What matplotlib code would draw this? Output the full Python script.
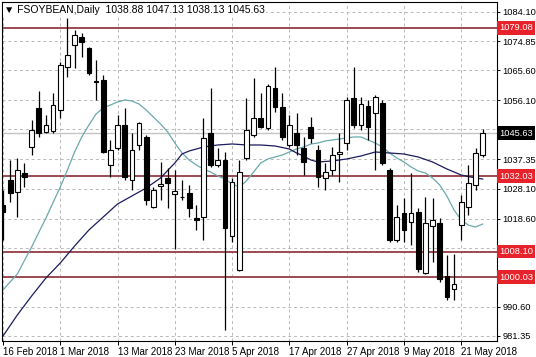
import matplotlib
matplotlib.use("Agg")
import matplotlib.pyplot as plt
import matplotlib.transforms as mtransforms

plt.rcParams['font.family'] = ['Liberation Sans', 'DejaVu Sans']

# ---- data (daily bars, oldest first) ----
opens = [1022.89, 1030.82, 1027.01, 1033.04, 1041.28, 1053.65, 1046.04, 1046.36, 1053.02, 1066.66,
         1073.63, 1076.17, 1072.68, 1062.21, 1062.53, 1035.57, 1040.96, 1048.26, 1030.82, 1041.92,
         1044.45, 1022.25, 1028.92, 1031.45, 1026.38, 1025.43, 1026.69, 1018.77, 1019.08, 1045.72,
         1035.57, 1037.16, 1013.06, 1002.27, 1037.79, 1045.09, 1050.48, 1047.31, 1060.00, 1053.97,
         1041.92, 1045.72, 1040.96, 1047.63, 1040.33, 1031.45, 1033.99, 1039.06, 1042.55, 1056.82,
         1048.26, 1054.29, 1052.07, 1055.24, 1033.99, 1011.79, 1020.35, 1017.50, 1020.67, 1001.32,
         1016.23, 1017.18, 1000.37, 996.25, 1016.55, 1022.25, 1029.23, 1038.88]
highs = [1027.65, 1037.16, 1037.79, 1036.21, 1049.85, 1059.04, 1051.43, 1058.41, 1068.24, 1082.20,
         1078.39, 1077.44, 1073.00, 1068.88, 1064.12, 1043.50, 1051.43, 1053.65, 1045.72, 1049.21,
         1045.09, 1028.60, 1036.53, 1034.62, 1033.99, 1030.82, 1029.23, 1022.89, 1050.48, 1060.00,
         1040.96, 1039.70, 1031.45, 1037.16, 1056.82, 1063.17, 1058.41, 1061.26, 1066.66, 1058.41,
         1051.43, 1052.07, 1044.45, 1050.80, 1041.92, 1036.21, 1041.28, 1045.72, 1057.14, 1066.66,
         1057.14, 1056.19, 1057.78, 1056.19, 1034.62, 1022.89, 1025.11, 1033.04, 1021.93, 1025.43,
         1025.11, 1018.77, 1007.03, 1007.34, 1026.06, 1035.57, 1040.96, 1047.13]
lows = [1011.79, 1023.84, 1019.08, 1028.60, 1038.75, 1044.45, 1045.72, 1045.72, 1050.48, 1063.49,
        1066.34, 1069.83, 1064.12, 1056.19, 1039.38, 1031.77, 1040.33, 1030.82, 1027.65, 1040.33,
        1022.89, 1021.93, 1024.47, 1021.93, 1008.93, 1024.47, 1019.08, 1014.96, 1011.79, 1034.94,
        1034.94, 983.24, 1011.15, 1001.96, 1037.16, 1044.45, 1047.31, 1046.68, 1052.39, 1043.50,
        1041.28, 1038.75, 1032.41, 1042.55, 1028.60, 1027.65, 1032.41, 1030.18, 1040.33, 1047.31,
        1046.68, 1043.50, 1033.99, 1035.57, 1011.15, 1011.15, 1011.15, 1010.20, 1001.64, 1001.01,
        1004.81, 998.47, 992.76, 992.76, 1011.79, 1019.72, 1027.65, 1038.13]
closes = [1020.67, 1026.69, 1033.99, 1031.77, 1046.68, 1045.72, 1048.26, 1054.61, 1067.29, 1070.46,
          1076.80, 1074.59, 1064.75, 1062.00, 1039.70, 1040.33, 1048.26, 1031.77, 1040.33, 1048.89,
          1024.47, 1027.65, 1029.55, 1029.87, 1027.33, 1025.27, 1021.93, 1018.13, 1044.14, 1035.57,
          1037.16, 1015.59, 1030.18, 1033.36, 1046.68, 1050.48, 1047.63, 1060.63, 1053.97, 1044.45,
          1048.26, 1041.92, 1036.53, 1044.14, 1031.77, 1033.36, 1038.75, 1039.70, 1056.19, 1048.26,
          1054.92, 1047.63, 1057.14, 1036.21, 1011.79, 1019.08, 1014.96, 1020.35, 1002.59, 1017.18,
          1018.13, 999.42, 993.71, 997.84, 1023.84, 1029.87, 1039.38, 1045.63]

# fast moving average (teal), one value per bar
fast_ma = [995.93, 998.5, 1001.0, 1005.3, 1009.57, 1014.2, 1018.77, 1023.7, 1028.6, 1033.99,
           1039.7, 1044.46, 1048.26, 1051.75, 1053.65, 1054.6, 1055.56, 1056.19, 1055.87, 1054.92,
           1053.02, 1050.8, 1048.58, 1046.04, 1042.55, 1039.38, 1037.16, 1035.57, 1034.3, 1033.35,
           1032.09, 1031.1, 1029.55, 1028.6, 1030.5, 1033.35, 1036.2, 1037.48, 1038.11, 1038.75,
           1039.7, 1040.65, 1041.28, 1042.23, 1042.55, 1043.19, 1043.5, 1043.82, 1044.14, 1044.46,
           1044.46, 1043.5, 1042.55, 1041.28, 1039.38, 1037.8, 1036.53, 1034.94, 1033.67, 1033.04,
           1031.45, 1029.23, 1025.74, 1021.3, 1018.13, 1016.5, 1015.9, 1016.86]
# slow moving average (navy), read at these bars
slow_bars = [0, 2, 4, 6, 8, 10, 12, 14, 16, 18, 20, 22, 24, 25, 26, 28, 30, 32, 34, 36,
             38, 40, 41, 42, 43, 44, 46, 48, 50, 52, 54, 56, 58, 60, 62, 64, 66, 67]
slow_ma = [981.34, 988.0, 994.03, 999.74, 1004.49, 1009.88, 1014.96, 1019.08, 1023.21, 1025.74,
           1028.28, 1031.45, 1036.21, 1039.06, 1040.01, 1041.28, 1041.92, 1042.24, 1041.92, 1041.92,
           1041.6, 1040.65, 1039.38, 1038.43, 1037.16, 1036.53, 1036.85, 1037.48, 1038.43, 1039.7,
           1039.38, 1039.06, 1038.11, 1036.53, 1034.31, 1032.4, 1031.45, 1031.13]

level_prices = [1079.08, 1032.03, 1008.10, 1000.03]
last_price = 1045.63

grid_prices = [1084.10, 1074.85, 1065.60, 1056.10, 1046.85, 1037.35, 1028.10, 1018.60,
               1009.35, 1000.10, 990.60, 981.35]
grid_labels = ['1084.10', '1074.85', '1065.60', '1056.10', '', '1037.35', '1028.10', '1018.60',
               '', '', '990.60', '981.35']
date_ticks = [0, 8, 16, 24, 32, 40, 48, 56, 64]
date_labels = ['16 Feb 2018', '1 Mar 2018', '13 Mar 2018', '23 Mar 2018', '5 Apr 2018',
               '17 Apr 2018', '27 Apr 2018', '9 May 2018', '21 May 2018']
title = '\u25bc FSOYBEAN,Daily  1038.88 1047.13 1038.13 1045.63'

LEVEL_COLOR = '#9c4a52'
LABEL_RED = '#e8222a'
FAST_COLOR = '#6aa9ad'
SLOW_COLOR = '#1c1c5c'
FS = 6.7

fig = plt.figure(figsize=(5.36, 3.57), dpi=100)
fig.patch.set_facecolor('white')
ax = fig.add_axes([2 / 536, 16 / 357, 495 / 536, 339 / 357])

ax.set_xlim(-0.14, 69.0)
ax.set_ylim(979.75, 1087.27)

# grid
for p in grid_prices:
    ax.axhline(p, color='#b8b8b8', lw=0.7, ls=(0, (3, 3)), zorder=0)
for t in date_ticks:
    ax.axvline(t, color='#b8b8b8', lw=0.7, ls=(0, (3, 3)), zorder=0)

# horizontal levels + price line
for p in level_prices:
    ax.axhline(p, color=LEVEL_COLOR, lw=1.4, zorder=1)
ax.axhline(last_price, color='#c4c4c4', lw=1.0, zorder=1)

# moving averages
ax.plot(range(len(fast_ma)), fast_ma, color=FAST_COLOR, lw=0.9, zorder=2)
ax.plot(slow_bars, slow_ma, color=SLOW_COLOR, lw=0.9, zorder=2)

# candles
w = 0.66
for i in range(len(opens)):
    o, h, l, c = opens[i], highs[i], lows[i], closes[i]
    ax.vlines(i, l, h, color='black', lw=0.9, zorder=3)
    bottom = min(o, c)
    height = max(abs(c - o), 0.25)
    face = 'white' if c >= o else 'black'
    ax.bar(i, height, bottom=bottom, width=w, color=face, edgecolor='black',
           linewidth=0.8, zorder=4)

# axes styling
for side in ['top', 'bottom', 'left', 'right']:
    ax.spines[side].set_color('black')
    ax.spines[side].set_linewidth(0.8)
ax.yaxis.tick_right()
ax.set_yticks(grid_prices)
ax.set_yticklabels(grid_labels, fontsize=FS)
ax.tick_params(axis='y', length=2.5, width=0.7, pad=1.5)
ax.set_xticks(date_ticks)
ax.set_xticklabels(date_labels, fontsize=FS + 0.3, ha='left')
ax.tick_params(axis='x', length=3, width=0.7, pad=1.5)

# right-side price boxes
trans = mtransforms.blended_transform_factory(ax.transAxes, ax.transData)
for p in level_prices:
    ax.text(1.004, p, '%.2f' % p, transform=trans, fontsize=FS, color='white',
            va='center', ha='left', clip_on=False,
            bbox=dict(facecolor=LABEL_RED, edgecolor='none', boxstyle='square,pad=0.25'))
ax.text(1.004, last_price, '%.2f' % last_price, transform=trans, fontsize=FS, color='white',
        va='center', ha='left', clip_on=False,
        bbox=dict(facecolor='black', edgecolor='none', boxstyle='square,pad=0.25'))

ax.text(0.004, 0.992, title, transform=ax.transAxes, fontsize=7.5, va='top', ha='left',
        color='black', bbox=dict(facecolor='white', edgecolor='none', pad=0.5))

fig.savefig('out.png', dpi=100)
